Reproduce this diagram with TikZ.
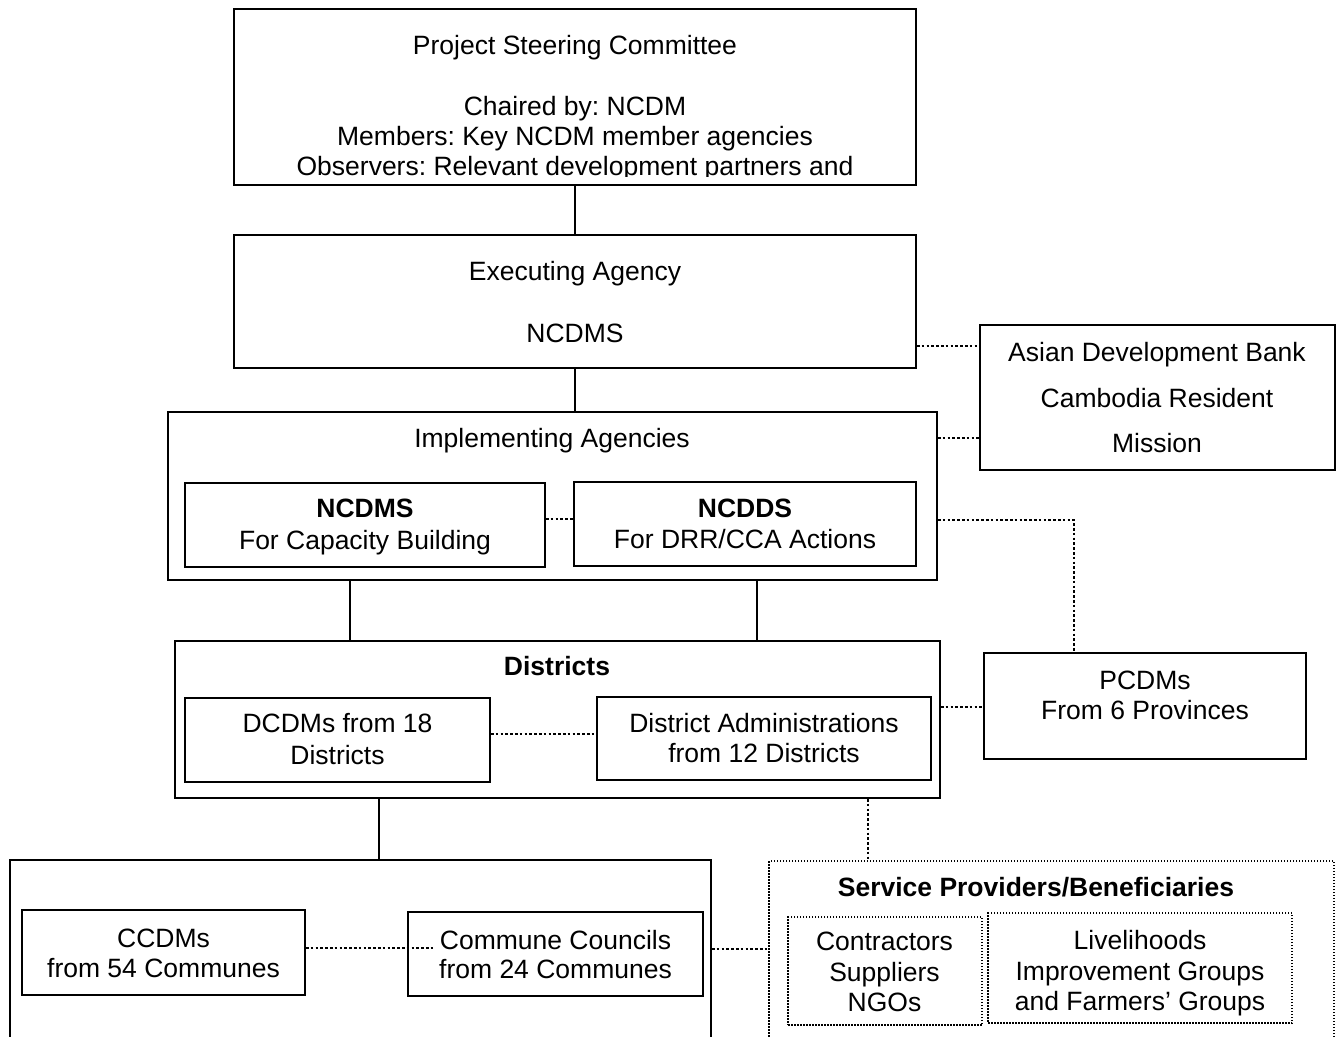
\documentclass[tikz,border=0pt]{standalone}
\usepackage{fontspec}
\setmainfont{Liberation Sans}
\frenchspacing
\usetikzlibrary{fit}
\begin{document}
\begin{tikzpicture}[x=1pt,y=-1pt,
  box/.style={draw, line width=1.8pt, inner sep=0pt},
  dbox/.style={draw, line width=1.4pt, dash pattern=on 1.5pt off 1.5pt, inner sep=0pt},
  txt/.style={anchor=base, inner sep=0pt, font=\fontsize{26.5}{30}\selectfont},
  conn/.style={line width=1.8pt},
  dconn/.style={line width=2.7pt, dash pattern=on 2.6pt off 2.2pt}]
\useasboundingbox (0,0) rectangle (1338,1036);
\fill[white] (0,0) rectangle (1338,1036);

% Project Steering Committee
\node[box, fit={(234,9) (916,185)}] (psc) {};
\begin{scope}
\clip (236,11) rectangle (914,176);
\node[txt] (pscA) at (575,54.5) {Project Steering Committee};
\node[txt] (pscB) at (575,115.5) {Chaired by: NCDM};
\node[txt] (pscC) at (575,145.5) {Members: Key NCDM member agencies};
\node[txt] (pscD) at (575,175.5) {Observers: Relevant development partners and};
\end{scope}

% Executing Agency
\node[box, fit={(234,235) (916,368)}] (exec) {};
\node[txt] (execA) at (575,280.5) {Executing Agency};
\node[txt] (execB) at (575,342.5) {NCDMS};

% ADB
\node[box, fit={(980,325) (1335,470)}] (adb) {};
\node[txt] (adbA) at (1157,361.5) {Asian Development Bank};
\node[txt] (adbB) at (1157,407.5) {Cambodia Resident};
\node[txt] (adbC) at (1157,452.5) {Mission};

% Implementing Agencies
\node[box, fit={(168,412) (937,580)}] (impl) {};
\node[txt] (implT) at (552,447.5) {Implementing Agencies};
\node[box, fit={(185,483) (545,567)}] (ncdms) {};
\node[txt] (ncdmsA) at (365,517.5) {\textbf{NCDMS}};
\node[txt] (ncdmsB) at (365,549.5) {For Capacity Building};
\node[box, fit={(574,482) (916,566)}] (ncdds) {};
\node[txt] (ncddsA) at (745,517.5) {\textbf{NCDDS}};
\node[txt] (ncddsB) at (745,548.5) {For DRR/CCA Actions};

% PCDMs
\node[box, fit={(984,653) (1306,759)}] (pcdm) {};
\node[txt] (pcdmA) at (1145,689.5) {PCDMs};
\node[txt] (pcdmB) at (1145,719.5) {From 6 Provinces};

% Districts
\node[box, fit={(175,641) (940,798)}] (dist) {};
\node[txt] (distT) at (557,675.5) {\textbf{Districts}};
\node[box, fit={(185,698) (490,782)}] (dcdm) {};
\node[txt] (dcdmA) at (337.5,732.5) {DCDMs from 18};
\node[txt] (dcdmB) at (337.5,764.5) {Districts};
\node[box, fit={(597,697) (931,780)}] (dadm) {};
\node[txt] (dadmA) at (764,732.5) {District Administrations};
\node[txt] (dadmB) at (764,762.5) {from 12 Districts};

% Communes
\node[box, fit={(10,860) (711,1060)}] (comm) {};
\node[box, fit={(22,910) (305,995)}] (ccdm) {};
\node[txt] (ccdmA) at (163.5,947.5) {CCDMs};
\node[txt] (ccdmB) at (163.5,977.5) {from 54 Communes};
\node[box, fit={(408,912) (703,996)}] (cc) {};
\node[txt] (ccA) at (555.5,949.5) {Commune Councils};
\node[txt] (ccB) at (555.5,978.5) {from 24 Communes};

% Service Providers
\node[dbox, fit={(769,861) (1334,1060)}] (serv) {};
\node[txt] (servT) at (1036,896.5) {\textbf{Service Providers/Beneficiaries}};
\node[dbox, fit={(788,917) (982,1025)}] (contr) {};
\node[txt] (contrA) at (884.5,950.5) {Contractors};
\node[txt] (contrB) at (884.5,981.5) {Suppliers};
\node[txt] (contrC) at (884.5,1011.5) {NGOs};
\node[dbox, fit={(988,913) (1292,1023)}] (liveli) {};
\node[txt] (liveliA) at (1140,949.5) {Livelihoods};
\node[txt] (liveliB) at (1140,980.5) {Improvement Groups};
\node[txt] (liveliC) at (1140,1010.5) {and Farmers’ Groups};

% solid connectors
\draw[conn] (psc.south) -- (exec.north);
\draw[conn] (exec.south) -- (exec.south |- impl.north);
\draw[conn] (impl.south -| 350,0) -- (dist.north -| 350,0);
\draw[conn] (impl.south -| 757,0) -- (dist.north -| 757,0);
\draw[conn] (dist.south -| 379,0) -- (comm.north -| 379,0);

% dotted connectors
\draw[dconn] (exec.east |- 0,346) -- (adb.west |- 0,346);
\draw[dconn] (impl.east |- 0,438) -- (adb.west |- 0,438);
\draw[dconn] (ncdms.east |- 0,519) -- (ncdds.west |- 0,519);
\draw[dconn] (impl.east |- 0,520) -| (pcdm.north -| 1074,0);
\draw[dconn] (dist.east |- 0,707) -- (pcdm.west |- 0,707);
\draw[dconn] (dcdm.east |- 0,734) -- (dadm.west |- 0,734);
\draw[dconn] (dist.south -| 868,0) -- (serv.north -| 868,0);
\draw[dconn] (ccdm.east |- 0,948) -- ([xshift=26pt]cc.west |- 0,948);
\draw[dconn] (comm.east |- 0,949) -- (serv.west |- 0,949);
\end{tikzpicture}
\end{document}
